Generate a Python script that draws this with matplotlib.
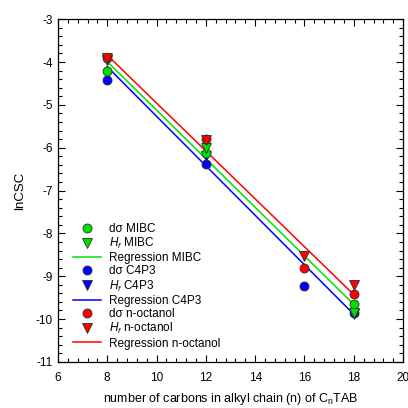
import matplotlib
matplotlib.use("Agg")
import matplotlib.pyplot as plt
from matplotlib.ticker import MultipleLocator
from matplotlib.lines import Line2D

plt.rcParams["font.family"] = ["Liberation Sans", "DejaVu Sans"]
plt.rcParams["mathtext.fontset"] = "custom"
plt.rcParams["mathtext.rm"] = "Liberation Sans"
plt.rcParams["mathtext.it"] = "Liberation Sans:italic"
plt.rcParams["axes.unicode_minus"] = False

# data
n_mibc = [8, 12, 18]
ds_mibc = [-4.20, -6.12, -9.65]
hf_mibc = [-3.95, -6.00, -9.85]

n_c4p3 = [8, 12, 16, 18]
ds_c4p3 = [-4.42, -6.37, -9.22, -9.85]
n_c4p3_hf = [8, 12, 18]
hf_c4p3 = [-3.95, -6.20, -9.88]

n_oct = [8, 12, 16, 18]
ds_oct = [-3.90, -5.80, -8.80, -9.42]
hf_oct = [-3.90, -5.82, -8.52, -9.20]

reg_x = [8, 18]
reg_mibc = [-3.99, -9.66]
reg_c4p3 = [-4.11, -9.89]
reg_oct = [-3.84, -9.43]

green = "#00e000"
blue = "#0000ff"
red = "#ff0000"


def main():
    fig = plt.figure(figsize=(4.08, 4.08), dpi=100)
    ax = fig.add_axes([0.142, 0.113, 0.846, 0.840])

    ms = 6.5
    # regression lines
    ax.plot(reg_x, reg_mibc, "-", color=green, lw=1.1)
    ax.plot(reg_x, reg_c4p3, "-", color=blue, lw=1.1)
    ax.plot(reg_x, reg_oct, "-", color=red, lw=1.1)

    # measured points
    ax.plot(n_c4p3, ds_c4p3, "o", color=blue, mec="#303030", mew=0.6, ms=ms)
    ax.plot(n_c4p3_hf, hf_c4p3, "v", color=blue, mec="#303030", mew=0.6, ms=ms)
    ax.plot(n_mibc, ds_mibc, "o", color=green, mec="#303030", mew=0.6, ms=ms)
    ax.plot(n_mibc, hf_mibc, "v", color=green, mec="#303030", mew=0.6, ms=ms)
    ax.plot(n_oct, ds_oct, "o", color=red, mec="#303030", mew=0.6, ms=ms)
    ax.plot(n_oct, hf_oct, "v", color=red, mec="#303030", mew=0.6, ms=ms)

    ax.set_xlim(6, 20)
    ax.set_ylim(-11, -3)
    ax.xaxis.set_major_locator(MultipleLocator(2))
    ax.xaxis.set_minor_locator(MultipleLocator(0.4))
    ax.yaxis.set_major_locator(MultipleLocator(1))
    ax.yaxis.set_minor_locator(MultipleLocator(0.2))
    ax.tick_params(which="both", direction="in", top=True, right=True,
                   labelsize=8.5, width=0.8)
    ax.tick_params(which="major", length=5)
    ax.tick_params(which="minor", length=3)
    ax.tick_params(axis="x", pad=7)
    for s in ax.spines.values():
        s.set_linewidth(0.9)

    ax.set_xlabel("number of carbons in alkyl chain (n) of C$_\\mathrm{n}$TAB",
                  fontsize=9, labelpad=5)
    ax.set_ylabel("lnCSC", fontsize=9.5, labelpad=7)

    handles = [
        Line2D([], [], ls="", marker="o", color=green, mec="#303030", mew=0.6, ms=ms),
        Line2D([], [], ls="", marker="v", color=green, mec="#303030", mew=0.6, ms=ms),
        Line2D([], [], color=green, lw=1.1),
        Line2D([], [], ls="", marker="o", color=blue, mec="#303030", mew=0.6, ms=ms),
        Line2D([], [], ls="", marker="v", color=blue, mec="#303030", mew=0.6, ms=ms),
        Line2D([], [], color=blue, lw=1.1),
        Line2D([], [], ls="", marker="o", color=red, mec="#303030", mew=0.6, ms=ms),
        Line2D([], [], ls="", marker="v", color=red, mec="#303030", mew=0.6, ms=ms),
        Line2D([], [], color=red, lw=1.1),
    ]
    labels = [
        "d\u03c3 MIBC", "$H_f$ MIBC", "Regression MIBC",
        "d\u03c3 C4P3", "$H_f$ C4P3", "Regression C4P3",
        "d\u03c3 n-octanol", "$H_f$ n-octanol", "Regression n-octanol",
    ]
    ax.legend(handles, labels, loc="upper left", bbox_to_anchor=(0.02, 0.43),
              frameon=False, fontsize=8.5, handlelength=2.4, handletextpad=0.6,
              labelspacing=0.1, borderpad=0.2)

    fig.savefig("out.png", dpi=100)


if __name__ == "__main__":
    main()
